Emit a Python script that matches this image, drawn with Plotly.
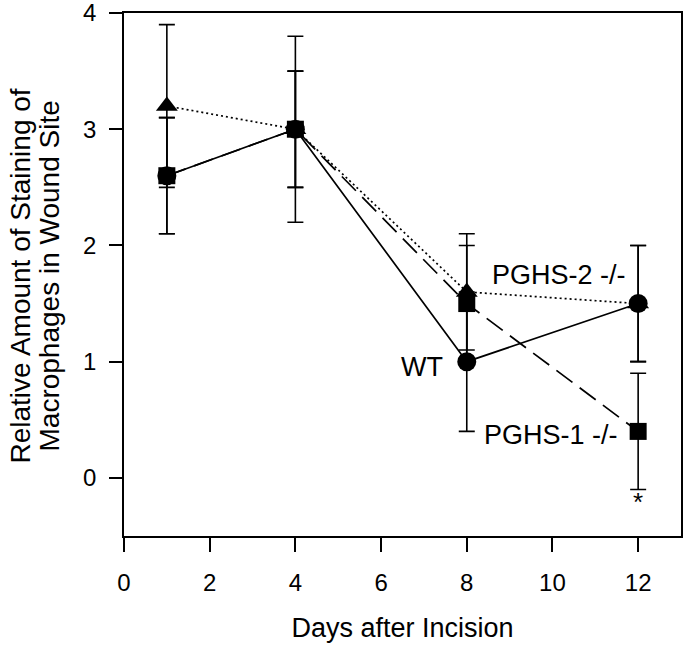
import plotly.graph_objects as go

days = [1, 4, 8, 12]

wt_values = [2.6, 3.0, 1.0, 1.5]
wt_err = [0.5, 0.5, 0.6, 0.5]

pghs2_values = [3.2, 3.0, 1.6, 1.5]
pghs2_err = [0.7, 0.5, 0.5, 0.5]

pghs1_values = [2.6, 3.0, 1.5, 0.4]
pghs1_err = [0.5, 0.8, 0.5, 0.5]

x_ticks = [0, 2, 4, 6, 8, 10, 12]
y_ticks = [0, 1, 2, 3, 4]

FONT = "Liberation Sans, Arial, Helvetica, sans-serif"
FS = 27
TFS = 24

fig = go.Figure()

def add_series(name, y, err, symbol, dash, size):
    fig.add_trace(go.Scatter(
        x=days, y=y, name=name, mode="lines+markers",
        line=dict(color="black", width=1.7, dash=dash),
        marker=dict(symbol=symbol, size=size, color="black"),
        error_y=dict(type="data", array=err, visible=True,
                     color="black", thickness=1.6, width=8),
    ))

add_series("PGHS-1 -/-", pghs1_values, pghs1_err, "square", "20px,9px", 17)
add_series("PGHS-2 -/-", pghs2_values, pghs2_err, "triangle-up", "2px,3px", 19)
add_series("WT", wt_values, wt_err, "circle", "solid", 19)

fig.add_annotation(x=11.77, y=1.75, text="PGHS-2 -/-", showarrow=False,
                   xanchor="right", yanchor="middle",
                   font=dict(family=FONT, size=FS, color="black"))
fig.add_annotation(x=7.49, y=0.955, text="WT", showarrow=False,
                   xanchor="right", yanchor="middle",
                   font=dict(family=FONT, size=FS, color="black"))
fig.add_annotation(x=11.58, y=0.37, text="PGHS-1 -/-", showarrow=False,
                   xanchor="right", yanchor="middle",
                   font=dict(family=FONT, size=FS, color="black"))
fig.add_annotation(x=12, y=-0.21, text="*", showarrow=False,
                   xanchor="center", yanchor="middle",
                   font=dict(family=FONT, size=26, color="black"))

# y-axis title, two lines
fig.add_annotation(xref="paper", yref="paper", x=0, y=0.5, xshift=-104, yshift=-2,
                   text="Relative Amount of Staining of", textangle=-90,
                   showarrow=False, xanchor="center", yanchor="middle",
                   font=dict(family=FONT, size=28, color="black"))
fig.add_annotation(xref="paper", yref="paper", x=0, y=0.5, xshift=-75, yshift=-2,
                   text="Macrophages in Wound Site", textangle=-90,
                   showarrow=False, xanchor="center", yanchor="middle",
                   font=dict(family=FONT, size=28, color="black"))

fig.update_layout(
    width=685, height=645,
    margin=dict(l=124, r=4, t=13, b=109),
    paper_bgcolor="white", plot_bgcolor="white",
    showlegend=False,
    font=dict(family=FONT, size=TFS, color="black"),
    xaxis=dict(
        range=[0, 13], tickvals=x_ticks, ticks="outside", ticklen=14,
        tickwidth=1.5, tickcolor="black", showline=True, linecolor="black",
        linewidth=1.5, mirror=True, showgrid=False, zeroline=False,
        automargin=False, ticklabelstandoff=10, ticklabeloverflow="allow",
        title=dict(text="Days after Incision", standoff=24,
                   font=dict(family=FONT, size=FS)),
        tickfont=dict(family=FONT, size=TFS),
    ),
    yaxis=dict(
        range=[-0.5, 4], tickvals=y_ticks, ticks="outside", ticklen=13,
        tickwidth=1.5, tickcolor="black", showline=True, linecolor="black",
        linewidth=1.5, mirror=True, showgrid=False, zeroline=False,
        automargin=False, ticklabelstandoff=8, ticklabeloverflow="allow",
        tickfont=dict(family=FONT, size=TFS),
    ),
)

fig.write_html("out.html", config={"displayModeBar": False},
               post_script="document.body.style.margin='0px';")
